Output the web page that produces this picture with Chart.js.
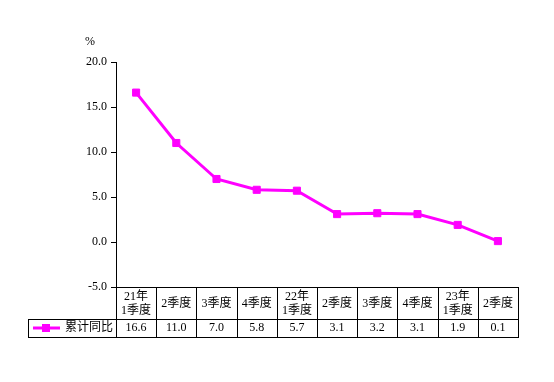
<!DOCTYPE html>
<html><head><meta charset="utf-8">
<script src="https://cdn.jsdelivr.net/npm/chart.js@4/dist/chart.umd.min.js"></script>
<style>html,body{margin:0;padding:0;background:#fff}#wrap{width:554px;height:382px}</style>
</head><body><div id="wrap"><canvas id="c" width="554" height="382"></canvas></div>
<script>
const categories = [["21年","1季度"],["2季度"],["3季度"],["4季度"],["22年","1季度"],["2季度"],["3季度"],["4季度"],["23年","1季度"],["2季度"]];
const seriesName = "累计同比";
const values = [16.6, 11.0, 7.0, 5.8, 5.7, 3.1, 3.2, 3.1, 1.9, 0.1];
const yTicks = [-5, 0, 5, 10, 15, 20];
const unitLabel = "%";

const FONT = '"Liberation Serif", "Times New Roman", "Noto Sans CJK SC", serif';
const COLOR = '#FF00FF';

const tablePlugin = {
  id: 'table',
  afterDraw(chart) {
    const ctx = chart.ctx;
    const x = chart.scales.x;
    const area = chart.chartArea;
    const n = categories.length;
    const colW = (area.right - area.left) / n;
    const top = area.bottom;
    const mid = top + 32;
    const bot = top + 50;
    const legLeft = 28;
    ctx.save();
    ctx.strokeStyle = '#000';
    ctx.lineWidth = 1;
    ctx.beginPath();
    ctx.moveTo(area.left, top + 0.5); ctx.lineTo(area.right + 1, top + 0.5);
    ctx.moveTo(legLeft, mid + 0.5); ctx.lineTo(area.right + 1, mid + 0.5);
    ctx.moveTo(legLeft, bot + 0.5); ctx.lineTo(area.right + 1, bot + 0.5);
    ctx.moveTo(legLeft + 0.5, mid); ctx.lineTo(legLeft + 0.5, bot);
    for (let i = 0; i <= n; i++) {
      const xc = i < n ? x.getPixelForValue(i) - colW / 2 : x.getPixelForValue(n - 1) + colW / 2;
      const xx = Math.round(xc) + 0.5;
      ctx.moveTo(xx, top); ctx.lineTo(xx, bot);
    }
    ctx.stroke();
    ctx.fillStyle = '#000';
    ctx.font = '12px ' + FONT;
    ctx.textAlign = 'center';
    ctx.textBaseline = 'middle';
    categories.forEach((lab, i) => {
      const cx = x.getPixelForValue(i);
      if (lab.length === 2) {
        ctx.fillText(lab[0], cx, top + 10);
        ctx.fillText(lab[1], cx, top + 24);
      } else {
        ctx.fillText(lab[0], cx, top + 17);
      }
      ctx.fillText(values[i].toFixed(1), cx, mid + 9);
    });
    const ly = mid + 9;
    ctx.strokeStyle = COLOR;
    ctx.lineWidth = 3;
    ctx.beginPath(); ctx.moveTo(33, ly); ctx.lineTo(60, ly); ctx.stroke();
    ctx.fillStyle = COLOR;
    ctx.fillRect(42, ly - 4, 8, 8);
    ctx.fillStyle = '#000';
    ctx.textAlign = 'left';
    ctx.fillText(seriesName, 65, ly);
    ctx.textAlign = 'center';
    ctx.fillText(unitLabel, 90, 42);
    ctx.restore();
  }
};

new Chart(document.getElementById('c'), {
  type: 'line',
  data: {
    labels: categories.map(c => c.join('')),
    datasets: [{
      label: seriesName,
      data: values,
      borderColor: COLOR,
      backgroundColor: COLOR,
      borderWidth: 3,
      pointStyle: 'rect',
      pointRadius: 5,
      pointBorderWidth: 1,
      pointBorderColor: COLOR,
      pointBackgroundColor: COLOR,
      tension: 0
    }]
  },
  options: {
    responsive: false,
    animation: false,
    devicePixelRatio: 1,
    layout: { padding: { top: 62, bottom: 95, right: 36, left: 0 } },
    plugins: { legend: { display: false }, tooltip: { enabled: false } },
    scales: {
      x: { type: 'category', offset: true, display: false },
      y: {
        min: -5, max: 20,
        afterBuildTicks(s) { s.ticks = yTicks.map(v => ({ value: v })); },
        afterFit(s) { s.width = 116; },
        border: { display: true, color: '#000', width: 1 },
        grid: { display: true, drawOnChartArea: false, drawTicks: true, tickLength: 5, color: '#000' },
        ticks: {
          color: '#000', padding: 4,
          font: { family: FONT, size: 12 },
          callback: v => Number(v).toFixed(1)
        }
      }
    }
  },
  plugins: [tablePlugin]
});
</script></body></html>
